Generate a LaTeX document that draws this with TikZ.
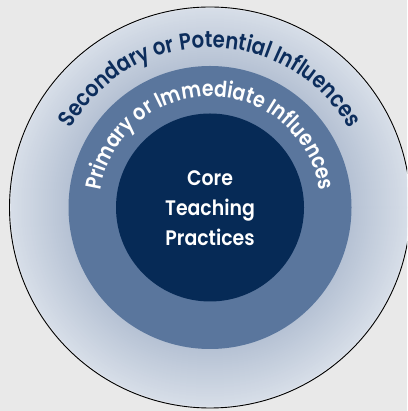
\documentclass[tikz,border=0pt]{standalone}
\usepackage{fontspec}
\setmainfont{Poppins}[UprightFont={* SemiBold}, FakeStretch=0.9]
% slightly narrower cut for the curved ring labels
\newfontfamily\ringfont{Poppins}[UprightFont={* SemiBold}, FakeStretch=0.86]
\usetikzlibrary{decorations.text}

\definecolor{pagebg}{HTML}{E9E9E9}
\definecolor{ringlight}{HTML}{D7DEE8}
\definecolor{ringdark}{HTML}{B6C2D4}
\definecolor{ringrim}{HTML}{E0E5EC}
\definecolor{midring}{HTML}{5A769D}
\definecolor{corefill}{HTML}{062A56}
\definecolor{navytext}{HTML}{0C2D5C}

\newcommand\outerlabelfont{\ringfont\fontsize{23}{23}\selectfont\color{navytext}}
\newcommand\midlabelfont{\ringfont\fontsize{22}{22}\selectfont\color{white}}

\tikzset{
  ring label/.style={decorate, decoration={text along path, text align=center}},
  core label/.style={align=center, text=white, font=\fontsize{21}{30}\selectfont}
}

\begin{document}
\begin{tikzpicture}[x=1pt,y=1pt]
  \useasboundingbox (0,0) rectangle (407,411);
  \fill[pagebg] (0,0) rectangle (407,411);
  \clip (0,0) rectangle (407,411);
  \coordinate (c) at (210,203.5);

  % outer ring: light rim, then a gradient darkening toward the middle ring
  \fill[ringrim] (c) circle[radius=200.5];
  \foreach \r in {199,198,...,142}{
    \pgfmathtruncatemacro\mixpct{(\r-142)/57*100}
    \fill[ringlight!\mixpct!ringdark] (c) circle[radius=\r];
  }
  \draw[black, line width=0.9pt] (c) circle[radius=200.5];
  \fill[midring] (c) circle[radius=141.5];
  \fill[corefill] (c) circle[radius=94];

  % curved labels
  \path[ring label, decoration={text={|\outerlabelfont|Secondary or Potential Influences}}]
    ([shift={(180:160)}]c) arc[start angle=180, end angle=0, radius=160];
  \path[ring label, decoration={text={|\midlabelfont|Primary or Immediate Influences}}]
    ([shift={(185:111)}]c) arc[start angle=185, end angle=-5, radius=111];

  \node[core label] (core) at (210,203) {Core\\Teaching\\Practices};
\end{tikzpicture}
\end{document}
